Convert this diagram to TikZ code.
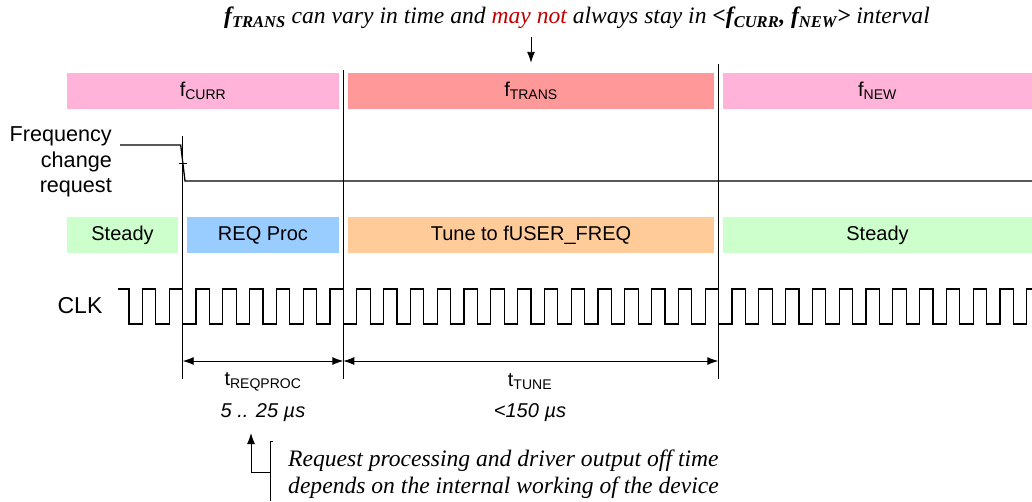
\documentclass[tikz,border=0pt]{standalone}
\usepackage{fontspec}
\setmainfont{Liberation Sans}
\newfontfamily\timesfont{Liberation Serif}
\usetikzlibrary{arrows.meta}
\definecolor{currpink}{RGB}{255,179,217}
\definecolor{transred}{RGB}{255,153,153}
\definecolor{steadygreen}{RGB}{204,255,204}
\definecolor{reqblue}{RGB}{153,204,255}
\definecolor{tuneorange}{RGB}{255,204,153}
\definecolor{mayred}{RGB}{192,0,0}
\begin{document}
\begin{tikzpicture}
  [x=1pt,y=-1pt,every node/.style={inner sep=0pt,font=\fontsize{20}{24}\selectfont}]
  \tikzstyle{bar} = [minimum height=36pt]
  \tikzstyle{sig} = [line width=1.3pt]
  \tikzstyle{marker} = [line width=0.8pt]
  \tikzstyle{dim} = [line width=0.9pt,{Latex[length=11pt,width=8pt]}-{Latex[length=11pt,width=8pt]}]
  \tikzstyle{tip} = [line width=0.9pt,-{Latex[length=11pt,width=8pt]}]
  \tikzstyle{note} = [font=\timesfont\itshape\fontsize{23.6}{27}\selectfont]
  \useasboundingbox (0,0) rectangle (1032,501);
  % headline
  \node[note] (hdr) at (577,18) {\textbf{f\textsubscript{TRANS}} can vary in time and \textcolor{mayred}{may not} always stay in \textbf{<f\textsubscript{CURR}, f\textsubscript{NEW}>} interval};
  % frequency bars
  \node[bar,fill=currpink,minimum width=272pt] (fcurr) at (203,91) {f\textsubscript{CURR}};
  \node[bar,fill=transred,minimum width=366pt] (ftrans) at (531,91) {f\textsubscript{TRANS}};
  \node[bar,fill=currpink,minimum width=309pt] (fnew) at (877.5,91) {f\textsubscript{NEW}};
  \coordinate (hdrtip) at (531,37);
  \draw[tip,shorten >=10pt] (hdrtip) -- (ftrans.north);
  % state bars
  \node[bar,fill=steadygreen,minimum width=111pt] (steady1) at (122.5,235) {Steady};
  \node[bar,fill=reqblue,minimum width=152pt] (reqproc) at (263,235) {REQ Proc};
  \node[bar,fill=tuneorange,minimum width=366pt] (tune) at (531,235) {Tune to fUSER\_FREQ};
  \node[bar,fill=steadygreen,minimum width=309pt] (steady2) at (877.5,235) {Steady};
  % request signal
  \node[anchor=east,align=right,font=\fontsize{21.6}{25.5}\selectfont] (req) at (112,162) {Frequency\\change\\request};
  \coordinate (reqstart) at (120,145);
  \draw[sig] (reqstart) -- (180.7,145) -- (185,181) -- (1032,181);
  \draw[marker] (179,163) -- (187,163);
  % clock
  \node[font=\fontsize{23}{27}\selectfont] (clk) at (80,306) {CLK};
  \coordinate (clkstart) at (118,289);
  \draw[sig] (clkstart) -- (129,289)
    \foreach \i in {0,...,32} { -- ++(0,35) -- ++(13.4,0) -- ++(0,-35) -- ++(13.4,0) }
    -- ++(0,35) -- ++(13.4,0) -- ++(0,-35) -- (1032,289);
  % time markers
  \coordinate (m1) at (182.7,361);
  \coordinate (m2) at (343.3,361);
  \coordinate (m3) at (718.3,361);
  \draw[marker] (182.7,136) -- (182.7,379);
  \draw[marker] (343.3,70) -- (343.3,379);
  \draw[marker] (718.3,64) -- (718.3,379);
  \draw[dim] (m1) -- (m2);
  \draw[dim] (m2) -- (m3);
  \node (treq) at (263,382) {t\textsubscript{REQPROC}};
  \node (ttune) at (530,382) {t\textsubscript{TUNE}};
  \node[font=\itshape\fontsize{20}{24}\selectfont] (reqval) at (263,413) {5 .. 25 µs};
  \node[font=\itshape\fontsize{20}{24}\selectfont] (tuneval) at (530,413) {<150 µs};
  % callout
  \coordinate (brk) at (270,472);
  \draw[tip] (brk) -- (251,472) -- (251,433);
  \draw[marker] (273,441) -- (270,441) -- (270,501);
  \node[note,anchor=west,align=left] (expl) at (288,474) {Request processing and driver output off time\\depends on the internal working of the device};
\end{tikzpicture}
\end{document}
